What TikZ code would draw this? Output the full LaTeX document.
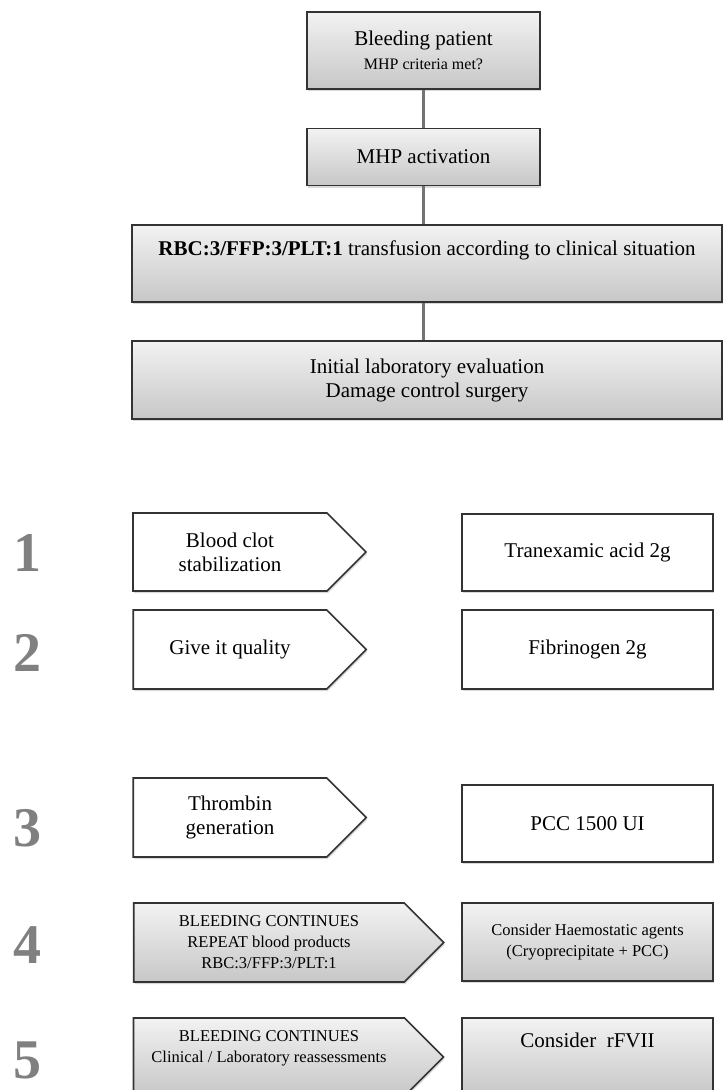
\documentclass[tikz,border=0pt]{standalone}
\usepackage{fontspec}
\setmainfont{Liberation Serif}
\usetikzlibrary{shapes.symbols,shadows}

\tikzset{
  flowbox/.style={draw=black!80, line width=1.6pt, align=center, inner sep=2pt,
    drop shadow={shadow xshift=1pt, shadow yshift=-2pt, opacity=0.3},
    font=\fontsize{21}{24}\selectfont},
  greybox/.style={flowbox, top color=black!5, bottom color=black!22},
  whitebox/.style={flowbox, fill=white},
  steparrow/.style={signal, signal to=east, signal pointer angle=90},
  smalltext/.style={font=\fontsize{16.5}{21}\selectfont},
  stepnum/.style={text=black!50, font=\fontsize{56}{56}\selectfont\bfseries},
  link/.style={draw=black!55, line width=3pt}
}

\begin{document}
\begin{tikzpicture}[x=1pt, y=-1pt]
  \useasboundingbox (0,0) rectangle (723,1090);

  % massive haemorrhage protocol
  \node[greybox, minimum width=233pt, minimum height=77pt] (patient) at (423.5,50.5)
    {Bleeding patient\\{\fontsize{16}{18}\selectfont MHP criteria met?}};
  \node[greybox, minimum width=233pt, minimum height=57pt] (activation) at (423.5,157) {MHP activation};
  \node[greybox, minimum width=590pt, inner ysep=0pt, text height=30pt, text depth=47pt] (transfusion) at (427,263.5)
    {\textbf{RBC:3/FFP:3/PLT:1} transfusion according to clinical situation};
  \node[greybox, minimum width=590pt, minimum height=78pt] (evaluation) at (427,380)
    {Initial laboratory evaluation\\Damage control surgery};

  \draw[link] (patient.south) -- (activation.north);
  \draw[link] (activation.south) -- (activation.south |- transfusion.north);
  \draw[link] (activation.south |- transfusion.south) -- (activation.south |- evaluation.north);

  % steps
  \node[stepnum] (num1) at (27,553) {1};
  \node[stepnum] (num2) at (27,653) {2};
  \node[stepnum] (num3) at (27,828) {3};
  \node[stepnum] (num4) at (27,945) {4};
  \node[stepnum] (num5) at (27,1060) {5};

  \node[whitebox, steparrow, minimum width=233pt, minimum height=78pt] (clot) at (230,552) {Blood clot\\stabilization};
  \node[whitebox, steparrow, minimum width=233pt, minimum height=79pt] (quality) at (230,649.5) {Give it quality};
  \node[whitebox, steparrow, minimum width=233pt, minimum height=79pt] (thrombin) at (230,817.5) {Thrombin\\generation};
  \node[greybox, steparrow, smalltext, minimum width=310pt, minimum height=79pt] (continues) at (269,942.5)
    {BLEEDING CONTINUES\\REPEAT blood products\\RBC:3/FFP:3/PLT:1};
  \node[greybox, steparrow, smalltext, minimum width=310pt, minimum height=78pt] (reassess) at (269,1057)
    {BLEEDING CONTINUES\\Clinical / Laboratory reassessments\\\mbox{}};

  \node[whitebox, minimum width=251pt, minimum height=77pt] (tranexamic) at (587.5,552.5) {Tranexamic acid 2g};
  \node[whitebox, minimum width=251pt, minimum height=79pt] (fibrinogen) at (587.5,649.5) {Fibrinogen 2g};
  \node[whitebox, minimum width=251pt, minimum height=77pt] (pcc) at (587.5,823.5) {PCC 1500 UI};
  \node[greybox, smalltext, minimum width=251pt, minimum height=78pt] (agents) at (587.5,942)
    {Consider Haemostatic agents\\(Cryoprecipitate + PCC)};
  \node[greybox, minimum width=251pt, inner ysep=0pt, text height=29pt, text depth=49pt] (rfvii) at (587.5,1057)
    {Consider\ \ rFVII};
\end{tikzpicture}
\end{document}
